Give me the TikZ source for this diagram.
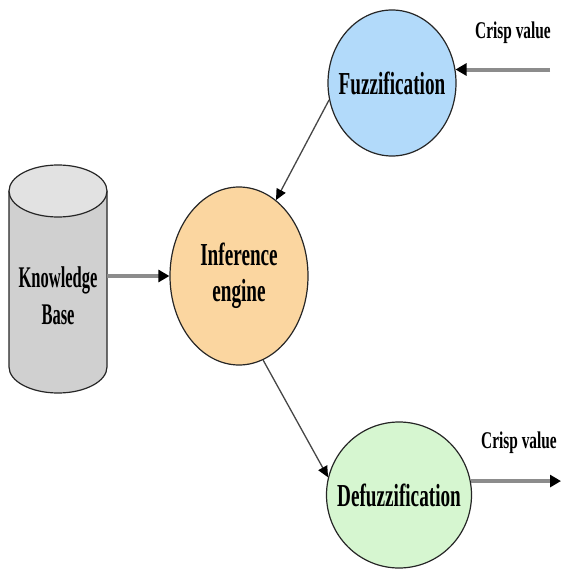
\documentclass[tikz,border=0pt]{standalone}
\usepackage{fontspec}
\setmainfont{Liberation Serif}[FakeStretch=0.6]
\newfontfamily\crispfont{Liberation Serif}[FakeStretch=0.64]
\newfontfamily\kbfont{Liberation Serif}[FakeStretch=0.55]
\usetikzlibrary{shapes.geometric,arrows.meta}
\definecolor{fzblue}{RGB}{178,218,250}
\definecolor{iepeach}{RGB}{251,214,160}
\definecolor{dfgreen}{RGB}{214,246,208}
\definecolor{cylbody}{RGB}{208,208,208}
\definecolor{cyltop}{RGB}{226,226,226}
\definecolor{thickgray}{RGB}{140,140,140}
\definecolor{thingray}{RGB}{70,70,70}
\tikzset{
  bubble/.style={ellipse, draw=black!85, line width=1.2pt, inner sep=0pt},
  bubbletext/.style={align=center, inner sep=0pt, font=\fontsize{32}{36}\selectfont\bfseries},
  thickarrow/.style={draw=thickgray, line width=4pt, -{Triangle[length=11pt,width=12pt,color=black]}},
  thinarrow/.style={draw=thingray, line width=1.3pt, -{Triangle[length=11pt,width=10pt,color=black]}},
  crisplabel/.style={font=\crispfont\fontsize{24}{28}\selectfont\bfseries, inner sep=0pt}
}
\begin{document}
\begin{tikzpicture}[x=1pt,y=-1pt]
\useasboundingbox (0,0) rectangle (563,569);
% cylinder (knowledge base)
\fill[cylbody] (9,191) -- (9,367) arc[start angle=180,end angle=360,x radius=49,y radius=-26] -- (107,191) -- cycle;
\draw[black!85, line width=1.2pt] (9,191) -- (9,367) arc[start angle=180,end angle=360,x radius=49,y radius=-26] -- (107,191);
\draw[black!85, line width=1.2pt, fill=cyltop] (58,191) ellipse[x radius=49, y radius=26];
\node[inner sep=0pt, minimum width=98pt, minimum height=80pt, align=center,
  font=\kbfont\fontsize{30}{37}\selectfont\bfseries] (kb) at (58,296) {Knowledge\\Base};
% bubbles
\node[bubble, fill=fzblue, minimum width=128pt, minimum height=146pt,
  label={[bubbletext, name=fzt]center:Fuzzification}] (fz) at (392,83) {};
\node[bubble, fill=iepeach, minimum width=138pt, minimum height=178pt,
  label={[bubbletext, name=iet]center:Inference\\engine}] (ie) at (239,276) {};
\node[bubble, fill=dfgreen, minimum width=145pt, minimum height=146pt,
  label={[bubbletext, name=dft]center:Defuzzification}] (df) at (399,495) {};
% free ends
\path (fz.12 -| 550,0) coordinate (cin);
\path (df.11 -| 561,0) coordinate (cout);
% connectors
\draw[thickarrow] (cin) -- (fz.12);
\draw[thickarrow] (kb.east |- ie.west) -- (ie.west);
\draw[thinarrow] (fz.195) -- (ie.64);
\draw[thinarrow] (ie.286) -- (df.166);
\draw[thickarrow] (df.11) -- (cout);
% labels
\node[crisplabel] (cv1) at (513,33) {Crisp value};
\node[crisplabel] (cv2) at (519,443) {Crisp value};
\end{tikzpicture}
\end{document}
